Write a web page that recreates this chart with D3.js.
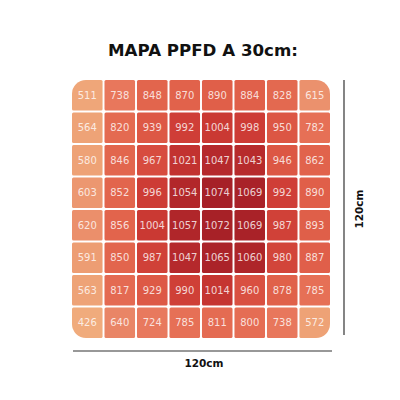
<!DOCTYPE html>
<html>
<head>
<meta charset="utf-8">
<script src="https://cdn.jsdelivr.net/npm/d3@7"></script>
<style>
html,body{margin:0;padding:0;background:#fff;}
svg{display:block;}
</style>
</head>
<body>
<svg id="chart" width="400" height="400"></svg>
<script>
const title = "MAPA PPFD A 30cm:";
const widthLabel = "120cm";
const heightLabel = "120cm";
const columns = [0,1,2,3,4,5,6,7];
const rows = [0,1,2,3,4,5,6,7];
const row0 = [511, 738, 848, 870, 890, 884, 828, 615];
const row1 = [564, 820, 939, 992, 1004, 998, 950, 782];
const row2 = [580, 846, 967, 1021, 1047, 1043, 946, 862];
const row3 = [603, 852, 996, 1054, 1074, 1069, 992, 890];
const row4 = [620, 856, 1004, 1057, 1072, 1069, 987, 893];
const row5 = [591, 850, 987, 1047, 1065, 1060, 980, 887];
const row6 = [563, 817, 929, 990, 1014, 960, 878, 785];
const row7 = [426, 640, 724, 785, 811, 800, 738, 572];
const grid = [row0,row1,row2,row3,row4,row5,row6,row7];

const colorDomain = [420, 580, 640, 740, 850, 950, 1000, 1050, 1075];
const colorRange = ["#F0AB7C","#EEA276","#E98566","#E8775C","#E2654D","#DC5644","#CC3A34","#B4282B","#A52027"];

const svg = d3.select("#chart");
const x0 = 72, x1 = 330, y0 = 80, y1 = 338;
const x = d3.scaleBand().domain(columns).range([x0, x1]).paddingInner(0.06);
const y = d3.scaleBand().domain(rows).range([y0, y1]).paddingInner(0.06);
const color = d3.scaleLinear().domain(colorDomain).range(colorRange).clamp(true);

svg.append("text")
  .attr("x", 203).attr("y", 55.5)
  .attr("text-anchor", "middle")
  .attr("font-family", "DejaVu Sans")
  .attr("font-weight", "bold")
  .attr("font-size", 15.5)
  .attr("textLength", 190)
  .attr("lengthAdjust", "spacingAndGlyphs")
  .attr("fill", "#111")
  .text(title);

const defs = svg.append("defs");
defs.append("clipPath").attr("id", "round")
  .append("rect")
  .attr("x", x0).attr("y", y0)
  .attr("width", x1 - x0).attr("height", y1 - y0)
  .attr("rx", 14).attr("ry", 14);

const cells = [];
grid.forEach((r, i) => r.forEach((v, j) => cells.push({r: i, c: j, v})));

const g = svg.append("g").attr("clip-path", "url(#round)");
g.selectAll("rect").data(cells).enter().append("rect")
  .attr("x", d => x(d.c)).attr("y", d => y(d.r))
  .attr("width", x.bandwidth()).attr("height", y.bandwidth())
  .attr("rx", 1.5)
  .attr("fill", d => color(d.v));

svg.append("g").selectAll("text").data(cells).enter().append("text")
  .attr("x", d => x(d.c) + x.bandwidth() / 2)
  .attr("y", d => y(d.r) + y.bandwidth() / 2 + 3.6)
  .attr("text-anchor", "middle")
  .attr("font-family", "DejaVu Sans")
  .attr("font-size", 10)
  .attr("fill", "rgba(255,255,255,0.8)")
  .text(d => d.v);

// dimension lines
svg.append("line")
  .attr("x1", 73).attr("x2", 332).attr("y1", 351).attr("y2", 351)
  .attr("stroke", "#333").attr("stroke-width", 1.2);
svg.append("text")
  .attr("x", 204).attr("y", 366.5)
  .attr("text-anchor", "middle")
  .attr("font-family", "DejaVu Sans")
  .attr("font-weight", "bold")
  .attr("font-size", 10.5)
  .attr("fill", "#111")
  .text(widthLabel);

svg.append("line")
  .attr("x1", 344).attr("x2", 344).attr("y1", 80).attr("y2", 335)
  .attr("stroke", "#333").attr("stroke-width", 1.2);
svg.append("text")
  .attr("transform", "translate(363,209) rotate(-90)")
  .attr("text-anchor", "middle")
  .attr("font-family", "DejaVu Sans")
  .attr("font-weight", "bold")
  .attr("font-size", 10.5)
  .attr("fill", "#111")
  .text(heightLabel);
</script>
</body>
</html>
